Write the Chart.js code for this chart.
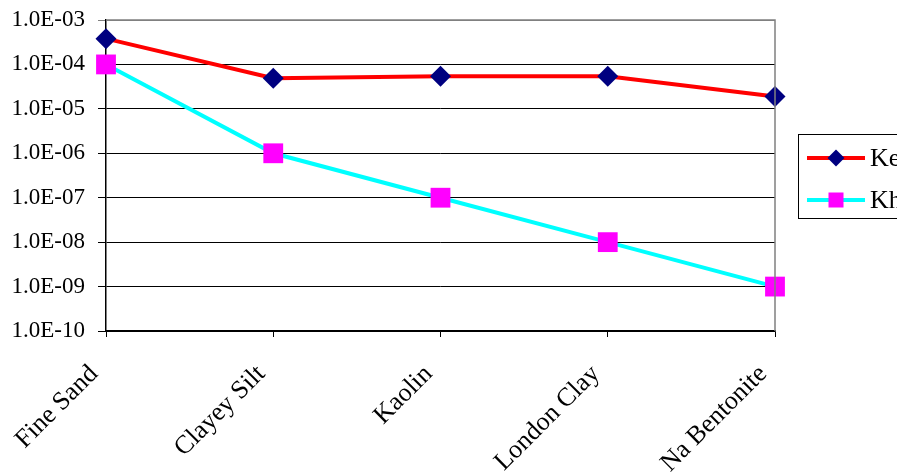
<!DOCTYPE html>
<html>
<head>
<meta charset="utf-8">
<script src="https://cdn.jsdelivr.net/npm/chart.js@4/dist/chart.umd.min.js"></script>
<style>
  html, body { margin: 0; padding: 0; background: #fff; overflow: hidden; }
  #wrap { width: 897px; height: 474px; }
</style>
</head>
<body>
<div id="wrap"><canvas id="chart"></canvas></div>
<script>
var categories = ['Fine Sand', 'Clayey Silt', 'Kaolin', 'London Clay', 'Na Bentonite'];
var keValues = [3.8e-4, 4.9e-5, 5.4e-5, 5.4e-5, 1.9e-5];
var khValues = [1.0e-4, 1.0e-6, 1.0e-7, 1.0e-8, 1.0e-9];
var seriesNames = ['Ke', 'Kh'];
var yTickExponents = [-10, -9, -8, -7, -6, -5, -4, -3];

var SERIF = "'Liberation Serif', 'Times New Roman', serif";

function sciLabel(v) {
    // 1.0E-03 style, like the spreadsheet
    var e = Math.round(Math.log10(v));
    var a = Math.abs(e);
    return '1.0E' + (e < 0 ? '-' : '+') + (a < 10 ? '0' + a : a);
}

// gray frame on top and right of the plot area
var frame = {
    id: 'frame',
    afterDatasetsDraw: function(chart) {
        var c = chart.ctx, a = chart.chartArea;
        c.save();
        c.strokeStyle = '#808080';
        c.lineWidth = 1.5;
        c.beginPath();
        c.moveTo(a.left, a.top);
        c.lineTo(a.right, a.top);
        c.lineTo(a.right, a.bottom);
        c.stroke();
        c.restore();
    }
};

// boxed legend on the right, line + marker + text
var boxLegend = {
    id: 'boxLegend',
    afterDraw: function(chart) {
        var c = chart.ctx;
        var x0 = 798, y0 = 134, h = 84;
        c.save();
        c.fillStyle = '#fff';
        c.fillRect(x0, y0, 200, h);
        c.strokeStyle = '#000';
        c.lineWidth = 1;
        c.strokeRect(x0 + 0.5, y0 + 0.5, 200, h);
        chart.data.datasets.forEach(function(ds, i) {
            var y = 158 + i * 42;
            c.strokeStyle = ds.borderColor;
            c.lineWidth = 4;
            c.beginPath();
            c.moveTo(807, y);
            c.lineTo(865, y);
            c.stroke();
            c.fillStyle = ds.pointBackgroundColor;
            if (ds.pointStyle === 'rectRot') {
                c.beginPath();
                c.moveTo(836 - 8.5, y);
                c.lineTo(836, y - 8.5);
                c.lineTo(836 + 8.5, y);
                c.lineTo(836, y + 8.5);
                c.closePath();
                c.fill();
            } else {
                c.fillRect(836 - 7.5, y - 7.5, 15, 15);
            }
            c.fillStyle = '#000';
            c.font = '26px ' + SERIF;
            c.textBaseline = 'middle';
            c.textAlign = 'left';
            c.fillText(ds.label, 870, y + 1);
        });
        c.restore();
    }
};

var ctx = document.getElementById('chart').getContext('2d');
new Chart(ctx, {
    type: 'line',
    data: {
        labels: categories,
        datasets: [{
            label: seriesNames[0],
            data: keValues,
            borderColor: '#FF0000',
            borderWidth: 4,
            pointStyle: 'rectRot',
            pointRadius: 10.5,
            pointBackgroundColor: '#000080',
            pointBorderColor: '#000080',
            pointBorderWidth: 0,
            tension: 0,
            clip: false
        }, {
            label: seriesNames[1],
            data: khValues,
            borderColor: '#00FFFF',
            borderWidth: 4,
            pointStyle: 'rect',
            pointRadius: 14,
            pointBackgroundColor: '#FF00FF',
            pointBorderColor: '#FF00FF',
            pointBorderWidth: 0,
            tension: 0,
            clip: false
        }]
    },
    options: {
        responsive: true,
        maintainAspectRatio: false,
        animation: false,
        layout: { padding: { top: 20, right: 122, left: 0, bottom: 0 } },
        plugins: {
            legend: { display: false },
            tooltip: { enabled: false }
        },
        scales: {
            x: {
                type: 'category',
                offset: false,
                grid: {
                    drawOnChartArea: false,
                    offset: false,
                    color: '#000',
                    tickLength: 6
                },
                border: { color: '#000', width: 1.5 },
                ticks: {
                    color: '#000',
                    font: { family: SERIF, size: 26 },
                    minRotation: 45,
                    maxRotation: 45,
                    autoSkip: false,
                    padding: 22,
                    labelOffset: -12
                },
                afterFit: function(scale) {
                    scale.height = 143;
                    scale.paddingLeft = 0;
                    scale.paddingRight = 0;
                }
            },
            y: {
                type: 'logarithmic',
                min: 1e-10,
                max: 1e-3,
                afterBuildTicks: function(scale) {
                    scale.ticks = yTickExponents.map(function(e) {
                        return { value: Number('1e' + e) };
                    });
                },
                grid: {
                    color: function(c) {
                        return c.index === yTickExponents.length - 1 ? '#808080' : '#000';
                    },
                    lineWidth: 1,
                    tickLength: 8
                },
                border: { color: '#000', width: 1.5 },
                ticks: {
                    color: '#000',
                    font: { family: SERIF, size: 23 },
                    padding: 13,
                    callback: function(v) { return sciLabel(v); }
                },
                afterFit: function(scale) {
                    scale.width = 106;
                    scale.paddingTop = 0;
                    scale.paddingBottom = 0;
                }
            }
        }
    },
    plugins: [frame, boxLegend]
});
</script>
</body>
</html>
